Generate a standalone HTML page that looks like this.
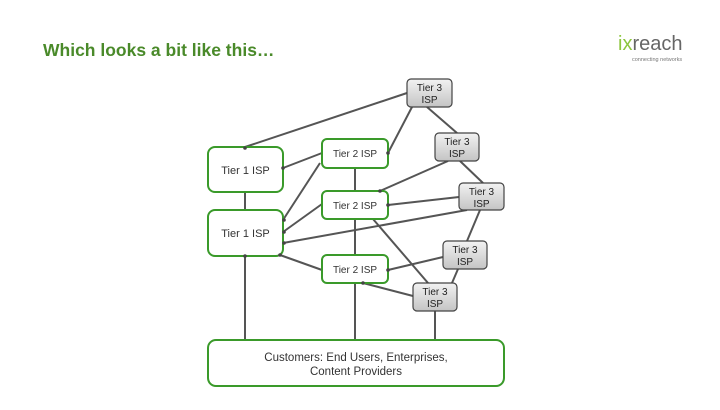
<!DOCTYPE html>
<html><head><style>
body{margin:0;width:720px;height:405px;background:#fff;overflow:hidden;font-family:"Liberation Sans",sans-serif}
</style></head><body>
<svg width="720" height="405" xmlns="http://www.w3.org/2000/svg" font-family="Liberation Sans, sans-serif">
<defs><linearGradient id="g" x1="0" y1="0" x2="0" y2="1"><stop offset="0" stop-color="#f2f2f2"/><stop offset="1" stop-color="#c4c4c4"/></linearGradient></defs>
<text x="43" y="56" font-size="17.5" font-weight="bold" fill="#4a8a2a">Which looks a bit like this…</text>
<text x="618" y="50" font-size="20" fill="#8dc63f">ix<tspan fill="#666">reach</tspan></text>
<text x="632" y="61" font-size="5.5" fill="#777">connecting networks</text>
<g stroke="#555" stroke-width="2" fill="none">
<line x1="407" y1="93" x2="245" y2="147"/>
<line x1="412" y1="107" x2="388" y2="153"/>
<line x1="427" y1="107" x2="457" y2="133"/>
<line x1="322" y1="153" x2="283" y2="168"/>
<line x1="245" y1="192" x2="245" y2="210"/>
<line x1="355" y1="168" x2="355" y2="191"/>
<line x1="355" y1="219" x2="355" y2="255"/>
<line x1="320" y1="163" x2="283" y2="220"/>
<line x1="322" y1="204" x2="283" y2="232"/>
<line x1="467" y1="210" x2="283" y2="243"/>
<line x1="448" y1="161" x2="380" y2="191"/>
<line x1="459" y1="197" x2="388" y2="205"/>
<line x1="460" y1="161" x2="483" y2="183"/>
<line x1="480" y1="210" x2="467" y2="241"/>
<line x1="458" y1="269" x2="452" y2="283"/>
<line x1="280" y1="255" x2="322" y2="270"/>
<line x1="373" y1="219" x2="428" y2="283"/>
<line x1="443" y1="257" x2="388" y2="270"/>
<line x1="413" y1="296" x2="363" y2="283"/>
<line x1="245" y1="256" x2="245" y2="340"/>
<line x1="355" y1="283" x2="355" y2="340"/>
<line x1="435" y1="311" x2="435" y2="340"/>
</g>
<g fill="#fff" stroke="#3a9a2a" stroke-width="2">
<rect x="208" y="147" width="75" height="45" rx="7"/>
<rect x="208" y="210" width="75" height="46" rx="7"/>
<rect x="322" y="139" width="66" height="29" rx="5"/>
<rect x="322" y="191" width="66" height="28" rx="5"/>
<rect x="322" y="255" width="66" height="28" rx="5"/>
<rect x="208" y="340" width="296" height="46" rx="8"/>
</g>
<g fill="#444">
<circle cx="245" cy="148" r="1.8"/><circle cx="388" cy="153" r="1.8"/><circle cx="283" cy="168" r="1.8"/>
<circle cx="284" cy="220" r="1.8"/><circle cx="284" cy="232" r="1.8"/><circle cx="284" cy="243" r="1.8"/>
<circle cx="380" cy="191" r="1.8"/><circle cx="388" cy="205" r="1.8"/><circle cx="388" cy="270" r="1.8"/>
<circle cx="363" cy="283" r="1.8"/><circle cx="280" cy="255" r="1.8"/><circle cx="245" cy="256" r="1.8"/>
</g>
<g fill="url(#g)" stroke="#444" stroke-width="1.2">
<rect x="407" y="79" width="45" height="28" rx="4"/>
<rect x="435" y="133" width="44" height="28" rx="4"/>
<rect x="459" y="183" width="45" height="27" rx="4"/>
<rect x="443" y="241" width="44" height="28" rx="4"/>
<rect x="413" y="283" width="44" height="28" rx="4"/>
</g>
<g font-size="11" fill="#333" text-anchor="middle">
<text x="245.5" y="174">Tier 1 ISP</text>
<text x="245.5" y="237">Tier 1 ISP</text>
<text x="355" y="157" font-size="10">Tier 2 ISP</text>
<text x="355" y="209" font-size="10">Tier 2 ISP</text>
<text x="355" y="273" font-size="10">Tier 2 ISP</text>
<text x="356" y="361" font-size="11.5">Customers: End Users, Enterprises,</text>
<text x="356" y="375" font-size="11.5">Content Providers</text>
<g font-size="10" fill="#222">
<text x="429.5" y="91">Tier 3</text><text x="429.5" y="103">ISP</text>
<text x="457" y="145">Tier 3</text><text x="457" y="157">ISP</text>
<text x="481.5" y="195">Tier 3</text><text x="481.5" y="207">ISP</text>
<text x="465" y="253">Tier 3</text><text x="465" y="265">ISP</text>
<text x="435" y="295">Tier 3</text><text x="435" y="307">ISP</text>
</g></g>
</svg>
</body></html>
